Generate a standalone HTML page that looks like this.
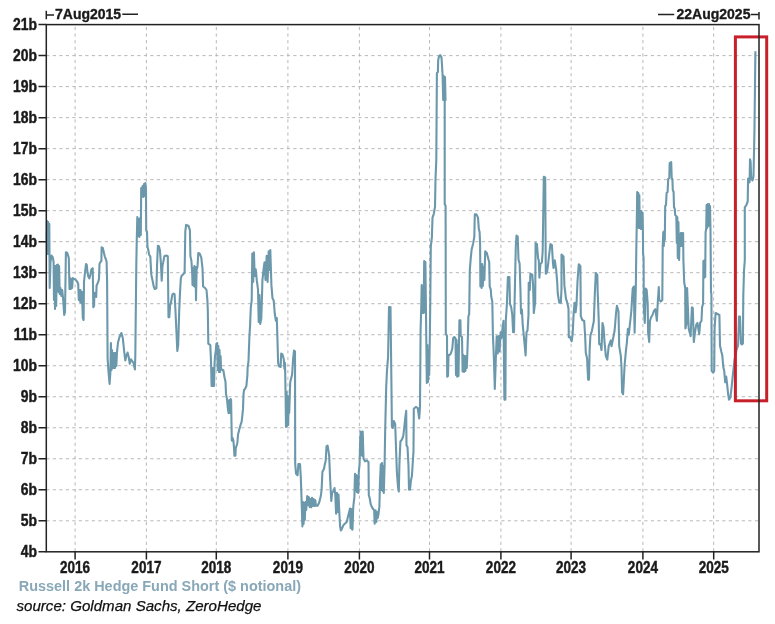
<!DOCTYPE html><html><head><meta charset="utf-8"><style>html,body{margin:0;padding:0;background:#fff;}svg{display:block}text{font-family:"Liberation Sans",Arial,sans-serif}</style></head><body>
<svg width="775" height="624" viewBox="0 0 775 624">
<rect width="775" height="624" fill="#fff"/>
<path d="M46.3 520.79H759.0 M46.3 489.78H759.0 M46.3 458.76H759.0 M46.3 427.75H759.0 M46.3 396.74H759.0 M46.3 365.73H759.0 M46.3 334.72H759.0 M46.3 303.71H759.0 M46.3 272.69H759.0 M46.3 241.68H759.0 M46.3 210.67H759.0 M46.3 179.66H759.0 M46.3 148.65H759.0 M46.3 117.64H759.0 M46.3 86.62H759.0 M46.3 55.61H759.0" stroke="#b8b8b8" stroke-width="1" stroke-dasharray="3.2 3.3" fill="none"/>
<path d="M75.10 24.6V551.8 M146.40 24.6V551.8 M216.30 24.6V551.8 M287.90 24.6V551.8 M359.40 24.6V551.8 M429.50 24.6V551.8 M500.90 24.6V551.8 M571.10 24.6V551.8 M642.90 24.6V551.8 M713.70 24.6V551.8" stroke="#b8b8b8" stroke-width="1" stroke-dasharray="3.2 3.4" stroke-dashoffset="4.3" fill="none"/>
<text transform="translate(37 557.3) scale(0.87 1)" font-size="16" font-weight="bold" text-anchor="end" fill="#1a1a1a" stroke="#1a1a1a" stroke-width="0.45">4b</text>
<text transform="translate(37 526.3) scale(0.87 1)" font-size="16" font-weight="bold" text-anchor="end" fill="#1a1a1a" stroke="#1a1a1a" stroke-width="0.45">5b</text>
<text transform="translate(37 495.3) scale(0.87 1)" font-size="16" font-weight="bold" text-anchor="end" fill="#1a1a1a" stroke="#1a1a1a" stroke-width="0.45">6b</text>
<text transform="translate(37 464.3) scale(0.87 1)" font-size="16" font-weight="bold" text-anchor="end" fill="#1a1a1a" stroke="#1a1a1a" stroke-width="0.45">7b</text>
<text transform="translate(37 433.3) scale(0.87 1)" font-size="16" font-weight="bold" text-anchor="end" fill="#1a1a1a" stroke="#1a1a1a" stroke-width="0.45">8b</text>
<text transform="translate(37 402.2) scale(0.87 1)" font-size="16" font-weight="bold" text-anchor="end" fill="#1a1a1a" stroke="#1a1a1a" stroke-width="0.45">9b</text>
<text transform="translate(37 371.2) scale(0.87 1)" font-size="16" font-weight="bold" text-anchor="end" fill="#1a1a1a" stroke="#1a1a1a" stroke-width="0.45">10b</text>
<text transform="translate(37 340.2) scale(0.87 1)" font-size="16" font-weight="bold" text-anchor="end" fill="#1a1a1a" stroke="#1a1a1a" stroke-width="0.45">11b</text>
<text transform="translate(37 309.2) scale(0.87 1)" font-size="16" font-weight="bold" text-anchor="end" fill="#1a1a1a" stroke="#1a1a1a" stroke-width="0.45">12b</text>
<text transform="translate(37 278.2) scale(0.87 1)" font-size="16" font-weight="bold" text-anchor="end" fill="#1a1a1a" stroke="#1a1a1a" stroke-width="0.45">13b</text>
<text transform="translate(37 247.2) scale(0.87 1)" font-size="16" font-weight="bold" text-anchor="end" fill="#1a1a1a" stroke="#1a1a1a" stroke-width="0.45">14b</text>
<text transform="translate(37 216.2) scale(0.87 1)" font-size="16" font-weight="bold" text-anchor="end" fill="#1a1a1a" stroke="#1a1a1a" stroke-width="0.45">15b</text>
<text transform="translate(37 185.2) scale(0.87 1)" font-size="16" font-weight="bold" text-anchor="end" fill="#1a1a1a" stroke="#1a1a1a" stroke-width="0.45">16b</text>
<text transform="translate(37 154.1) scale(0.87 1)" font-size="16" font-weight="bold" text-anchor="end" fill="#1a1a1a" stroke="#1a1a1a" stroke-width="0.45">17b</text>
<text transform="translate(37 123.1) scale(0.87 1)" font-size="16" font-weight="bold" text-anchor="end" fill="#1a1a1a" stroke="#1a1a1a" stroke-width="0.45">18b</text>
<text transform="translate(37 92.1) scale(0.87 1)" font-size="16" font-weight="bold" text-anchor="end" fill="#1a1a1a" stroke="#1a1a1a" stroke-width="0.45">19b</text>
<text transform="translate(37 61.1) scale(0.87 1)" font-size="16" font-weight="bold" text-anchor="end" fill="#1a1a1a" stroke="#1a1a1a" stroke-width="0.45">20b</text>
<text transform="translate(37 30.1) scale(0.87 1)" font-size="16" font-weight="bold" text-anchor="end" fill="#1a1a1a" stroke="#1a1a1a" stroke-width="0.45">21b</text>
<text transform="translate(75.1 572.9) scale(0.82 1)" font-size="16.5" font-weight="bold" text-anchor="middle" fill="#1a1a1a" stroke="#1a1a1a" stroke-width="0.45">2016</text>
<text transform="translate(146.4 572.9) scale(0.82 1)" font-size="16.5" font-weight="bold" text-anchor="middle" fill="#1a1a1a" stroke="#1a1a1a" stroke-width="0.45">2017</text>
<text transform="translate(216.3 572.9) scale(0.82 1)" font-size="16.5" font-weight="bold" text-anchor="middle" fill="#1a1a1a" stroke="#1a1a1a" stroke-width="0.45">2018</text>
<text transform="translate(287.9 572.9) scale(0.82 1)" font-size="16.5" font-weight="bold" text-anchor="middle" fill="#1a1a1a" stroke="#1a1a1a" stroke-width="0.45">2019</text>
<text transform="translate(359.4 572.9) scale(0.82 1)" font-size="16.5" font-weight="bold" text-anchor="middle" fill="#1a1a1a" stroke="#1a1a1a" stroke-width="0.45">2020</text>
<text transform="translate(429.5 572.9) scale(0.82 1)" font-size="16.5" font-weight="bold" text-anchor="middle" fill="#1a1a1a" stroke="#1a1a1a" stroke-width="0.45">2021</text>
<text transform="translate(500.9 572.9) scale(0.82 1)" font-size="16.5" font-weight="bold" text-anchor="middle" fill="#1a1a1a" stroke="#1a1a1a" stroke-width="0.45">2022</text>
<text transform="translate(571.1 572.9) scale(0.82 1)" font-size="16.5" font-weight="bold" text-anchor="middle" fill="#1a1a1a" stroke="#1a1a1a" stroke-width="0.45">2023</text>
<text transform="translate(642.9 572.9) scale(0.82 1)" font-size="16.5" font-weight="bold" text-anchor="middle" fill="#1a1a1a" stroke="#1a1a1a" stroke-width="0.45">2024</text>
<text transform="translate(713.7 572.9) scale(0.82 1)" font-size="16.5" font-weight="bold" text-anchor="middle" fill="#1a1a1a" stroke="#1a1a1a" stroke-width="0.45">2025</text>
<path d="M38.5 551.80H46.3 M38.5 520.79H46.3 M38.5 489.78H46.3 M38.5 458.76H46.3 M38.5 427.75H46.3 M38.5 396.74H46.3 M38.5 365.73H46.3 M38.5 334.72H46.3 M38.5 303.71H46.3 M38.5 272.69H46.3 M38.5 241.68H46.3 M38.5 210.67H46.3 M38.5 179.66H46.3 M38.5 148.65H46.3 M38.5 117.64H46.3 M38.5 86.62H46.3 M38.5 55.61H46.3 M38.5 24.60H46.3 M75.10 551.8V559.5 M146.40 551.8V559.5 M216.30 551.8V559.5 M287.90 551.8V559.5 M359.40 551.8V559.5 M429.50 551.8V559.5 M500.90 551.8V559.5 M571.10 551.8V559.5 M642.90 551.8V559.5 M713.70 551.8V559.5" stroke="#222" stroke-width="1.5" fill="none"/>
<path d="M46.8 240.0 L47.0 221.0 L47.6 254.0 L48.2 222.0 L48.8 254.0 L49.3 224.0 L49.7 288.0 L50.5 262.0 L51.5 255.5 L52.8 257.4 L53.6 262.0 L54.0 300.0 L54.5 266.0 L55.0 309.0 L55.6 266.0 L56.2 306.0 L56.8 265.0 L57.3 290.0 L57.9 264.5 L58.5 292.0 L59.1 266.0 L59.7 294.0 L60.5 288.0 L61.3 296.0 L62.2 290.0 L63.2 300.0 L64.2 315.0 L65.0 312.0 L65.9 252.3 L67.3 253.0 L68.8 258.0 L69.5 289.0 L70.2 278.0 L70.8 289.0 L71.5 279.0 L72.1 288.0 L72.8 278.0 L74.0 279.0 L75.3 279.2 L76.5 281.0 L77.4 282.0 L78.2 284.0 L78.8 300.0 L79.5 290.0 L80.2 302.0 L80.5 290.0 L81.2 303.0 L82.0 292.0 L82.8 318.0 L83.6 320.0 L84.0 282.0 L85.0 272.5 L86.0 264.0 L86.8 265.0 L87.5 272.5 L88.4 276.8 L89.4 278.3 L90.3 275.0 L91.3 269.6 L92.7 268.2 L93.0 285.5 L93.3 307.2 L94.1 305.7 L94.4 292.7 L95.5 294.0 L96.2 297.0 L96.6 285.5 L97.3 284.0 L98.5 281.2 L99.0 278.3 L99.5 263.9 L100.2 262.4 L101.4 261.0 L101.6 247.3 L102.8 248.0 L103.8 252.3 L104.8 256.6 L106.0 259.5 L106.6 262.0 L107.1 281.2 L107.6 358.0 L108.5 372.0 L109.6 384.0 L110.4 372.0 L110.9 343.0 L111.5 370.0 L112.0 350.0 L112.6 368.0 L113.2 353.0 L113.8 368.0 L114.4 353.0 L115.0 368.0 L115.6 353.0 L116.3 366.0 L117.0 352.0 L118.0 342.5 L119.5 337.0 L121.4 333.0 L122.8 338.0 L124.2 351.5 L125.3 360.4 L126.3 356.0 L127.6 352.6 L128.7 357.0 L129.8 363.8 L131.0 359.3 L132.2 361.0 L133.5 363.0 L134.9 369.4 L135.3 356.0 L136.3 265.0 L136.8 238.0 L137.3 217.0 L138.0 236.0 L138.7 219.0 L139.4 237.0 L140.1 218.0 L140.8 235.0 L141.2 188.0 L141.9 196.0 L142.6 186.0 L143.3 197.0 L144.0 184.0 L144.7 196.0 L145.4 183.0 L146.0 190.0 L146.2 230.0 L147.0 232.0 L147.5 247.0 L148.0 248.7 L149.2 254.8 L150.3 256.3 L151.3 274.6 L152.6 280.7 L153.8 286.8 L154.8 289.0 L156.4 288.3 L157.1 263.9 L157.9 245.7 L159.0 246.4 L159.9 250.2 L160.9 263.2 L161.7 280.7 L162.5 265.4 L163.2 262.4 L164.4 256.3 L166.3 255.5 L167.8 256.3 L168.5 317.2 L169.3 317.2 L170.1 305.0 L170.8 303.5 L172.4 294.4 L173.6 293.6 L174.6 294.4 L175.1 303.5 L176.2 326.3 L177.3 351.0 L178.2 345.0 L179.2 311.1 L180.0 292.8 L180.7 280.7 L180.8 279.0 L181.5 276.0 L184.6 272.8 L185.3 231.7 L186.1 224.9 L188.4 225.7 L189.9 230.2 L190.4 256.1 L191.4 260.7 L192.2 272.8 L192.5 285.0 L193.2 268.0 L193.8 286.0 L194.4 266.0 L195.0 287.0 L195.6 267.0 L196.0 300.2 L196.6 270.0 L197.5 266.7 L198.3 253.0 L199.8 253.8 L201.3 257.6 L202.5 268.3 L203.1 286.5 L205.1 288.0 L206.5 290.0 L207.4 300.2 L207.8 310.0 L208.3 343.7 L210.3 345.2 L211.1 363.5 L211.6 386.0 L212.2 368.0 L212.8 386.0 L213.4 368.0 L214.0 386.0 L214.5 365.0 L214.9 357.4 L215.7 351.3 L216.4 343.7 L217.2 343.0 L217.7 370.0 L218.3 346.0 L218.9 372.0 L219.5 350.0 L220.1 372.0 L220.6 356.0 L221.0 368.0 L221.7 369.6 L223.3 370.3 L224.5 377.2 L225.5 381.8 L226.0 393.9 L227.1 400.0 L227.9 408.9 L228.6 413.2 L229.3 400.0 L230.0 413.0 L230.6 399.0 L231.1 400.2 L231.5 423.3 L231.8 440.6 L232.5 437.7 L233.4 440.6 L233.9 446.4 L234.4 455.8 L235.4 455.8 L235.8 447.8 L237.3 443.5 L238.0 434.8 L239.4 429.1 L240.6 424.7 L241.6 421.8 L242.3 416.1 L243.0 408.9 L243.5 394.4 L244.0 390.1 L245.2 388.7 L246.4 385.8 L247.4 375.0 L247.6 368.0 L248.5 361.2 L249.4 336.5 L250.1 325.3 L250.8 307.3 L251.7 300.6 L252.3 253.5 L253.2 282.0 L253.9 252.3 L254.7 276.0 L255.7 269.2 L256.8 280.4 L258.0 289.4 L258.7 322.0 L259.5 295.0 L260.2 324.0 L261.3 318.5 L262.0 296.1 L262.4 280.4 L263.6 269.2 L264.5 262.4 L265.5 280.0 L266.7 255.7 L267.6 282.0 L268.7 251.2 L269.5 270.0 L270.3 250.1 L271.4 284.9 L272.5 298.3 L273.7 300.6 L274.8 314.0 L275.9 320.8 L276.8 318.0 L277.7 347.7 L278.1 362.0 L278.7 366.0 L280.6 367.0 L281.2 353.5 L282.5 354.4 L283.8 359.2 L284.4 368.8 L285.0 363.0 L285.6 395.0 L286.0 427.0 L286.6 392.0 L287.1 426.0 L287.7 396.0 L288.2 425.0 L288.7 398.0 L289.2 413.0 L290.2 382.3 L292.1 374.6 L293.1 359.2 L294.0 350.6 L295.0 351.5 L295.2 463.5 L296.0 473.7 L297.6 475.3 L298.4 464.0 L300.0 464.0 L300.8 476.9 L301.6 500.9 L302.4 526.5 L303.0 502.0 L303.6 524.0 L304.2 503.0 L304.8 520.0 L305.4 502.0 L306.2 510.0 L307.2 496.1 L308.0 505.0 L308.8 497.0 L309.6 507.0 L310.4 499.0 L311.2 507.3 L312.0 497.7 L312.8 506.0 L313.6 499.0 L314.4 506.0 L315.2 500.0 L316.0 505.7 L317.6 505.7 L319.2 502.5 L320.8 496.1 L321.6 489.7 L322.4 472.0 L324.0 468.8 L324.9 464.0 L325.7 460.8 L326.5 446.4 L327.6 445.6 L328.5 451.2 L329.2 456.0 L330.1 478.5 L331.3 500.9 L332.1 492.9 L333.3 491.3 L334.5 488.1 L335.3 495.0 L336.1 513.7 L336.9 492.9 L337.6 512.0 L338.5 494.5 L339.2 510.0 L340.1 526.5 L340.9 530.5 L341.5 529.6 L343.5 525.0 L346.7 522.0 L350.0 508.5 L350.6 528.0 L351.2 509.0 L351.8 529.0 L352.5 529.6 L353.2 508.0 L353.5 504.6 L354.4 496.9 L355.0 473.8 L355.6 490.0 L356.2 475.0 L356.8 492.0 L357.4 476.0 L358.3 493.0 L358.8 472.0 L359.6 464.2 L360.2 439.2 L360.8 431.5 L361.3 455.0 L361.8 432.0 L362.3 456.0 L362.7 431.5 L363.5 458.5 L365.0 461.3 L366.9 460.4 L368.5 462.3 L368.8 495.0 L369.8 498.8 L370.8 504.6 L372.7 508.5 L374.2 510.4 L374.6 523.8 L375.6 510.4 L376.3 522.0 L377.0 512.0 L377.7 518.0 L378.5 514.2 L379.4 506.5 L380.0 481.5 L380.8 464.2 L381.4 490.0 L382.0 463.0 L382.6 491.0 L383.2 466.0 L383.8 493.0 L384.6 464.2 L385.2 429.6 L386.2 387.3 L386.9 371.9 L388.1 356.5 L389.0 307.0 L390.5 307.0 L391.3 373.8 L391.9 426.0 L392.7 428.0 L393.8 421.0 L395.2 424.2 L396.2 453.0 L396.9 472.3 L398.1 487.7 L398.8 491.5 L399.4 464.6 L400.4 441.5 L401.9 439.6 L403.3 435.8 L404.2 428.0 L405.2 418.5 L406.2 410.8 L406.5 445.4 L407.5 447.0 L408.5 466.5 L409.0 489.6 L410.0 489.6 L411.0 480.0 L411.9 476.2 L413.5 451.2 L413.8 408.8 L415.8 407.0 L417.7 407.9 L419.2 418.5 L420.0 407.0 L420.6 330.0 L421.2 309.0 L421.7 285.0 L422.4 313.0 L423.0 287.0 L423.6 313.0 L424.2 261.0 L424.8 312.0 L425.4 262.0 L426.0 314.0 L426.3 340.0 L426.8 383.0 L427.4 345.0 L428.0 382.0 L428.6 350.0 L429.2 375.0 L429.8 340.0 L430.3 300.0 L430.8 246.4 L431.9 237.0 L432.5 217.7 L433.8 213.8 L435.0 207.0 L435.5 179.2 L436.3 160.0 L436.9 73.0 L437.9 72.0 L438.2 60.0 L439.0 56.5 L440.1 55.1 L441.5 57.4 L442.0 65.2 L442.6 75.3 L443.2 100.0 L443.8 76.0 L444.4 101.0 L445.0 77.0 L445.5 100.0 L444.7 101.0 L444.7 204.0 L445.6 206.0 L445.8 333.5 L447.0 336.0 L447.2 376.7 L448.0 376.0 L448.5 355.0 L449.8 354.9 L451.0 353.0 L452.3 348.5 L453.2 338.2 L454.3 337.0 L455.5 338.2 L456.0 375.0 L456.6 340.0 L457.2 376.7 L457.8 345.0 L458.5 376.0 L459.4 320.3 L460.4 320.3 L460.7 335.6 L462.0 337.0 L462.6 371.5 L463.3 355.0 L464.0 372.0 L464.7 356.0 L465.4 371.0 L466.1 356.0 L466.8 368.0 L467.7 343.3 L468.4 316.4 L469.2 314.0 L469.8 270.0 L470.8 257.7 L471.6 249.7 L473.2 243.3 L474.3 236.9 L474.8 214.4 L476.4 214.4 L478.0 217.6 L478.8 228.8 L479.6 232.0 L480.1 243.3 L480.4 286.5 L481.0 265.0 L481.6 288.0 L482.2 264.0 L482.8 286.0 L483.6 267.3 L484.4 280.0 L485.2 251.3 L486.8 252.9 L488.4 259.3 L489.2 262.0 L489.7 286.5 L490.8 289.7 L491.2 296.2 L492.3 301.5 L492.9 334.2 L493.8 355.4 L494.8 389.0 L495.8 359.2 L496.7 336.2 L497.7 353.5 L498.7 336.0 L499.6 351.5 L500.6 332.3 L501.5 338.0 L502.5 328.5 L503.5 320.8 L504.4 399.6 L505.4 399.6 L505.8 320.8 L506.9 303.8 L507.9 277.0 L509.4 277.0 L510.0 303.8 L511.3 307.7 L512.3 315.4 L513.1 332.3 L514.0 332.3 L514.6 302.0 L515.8 246.2 L516.5 235.6 L517.7 236.5 L518.5 259.6 L519.6 263.5 L520.4 288.5 L521.0 313.5 L521.9 309.6 L522.7 324.6 L524.2 340.0 L525.6 355.4 L526.5 332.3 L527.5 330.4 L528.5 315.0 L528.7 282.7 L529.8 290.0 L530.4 273.8 L532.3 274.8 L533.1 285.4 L533.8 313.0 L535.2 301.5 L535.6 243.0 L536.9 244.0 L538.1 258.5 L538.8 260.4 L539.4 277.7 L540.4 264.2 L541.9 262.3 L542.7 250.8 L543.8 176.7 L545.2 177.7 L545.8 273.8 L547.1 271.9 L548.1 264.2 L550.4 244.0 L551.9 245.0 L552.9 262.3 L553.5 268.0 L554.8 260.4 L556.2 270.0 L557.3 283.5 L557.7 293.0 L559.2 302.7 L560.8 302.7 L561.5 289.2 L561.5 254.6 L563.5 256.5 L564.4 285.4 L566.0 298.8 L567.3 302.7 L568.5 308.5 L568.8 337.3 L569.8 336.3 L570.8 339.2 L571.7 341.2 L572.7 333.5 L573.7 312.3 L574.6 302.7 L575.6 312.3 L576.5 304.6 L577.5 281.5 L578.8 264.2 L580.4 266.2 L580.8 316.2 L582.3 320.0 L584.2 321.0 L585.2 337.3 L585.8 352.7 L587.1 358.5 L588.1 379.6 L589.0 379.6 L589.6 350.8 L590.4 335.4 L591.9 330.8 L593.8 321.2 L594.8 294.2 L595.8 273.0 L597.3 275.0 L597.7 292.3 L598.7 319.2 L599.2 344.2 L600.5 344.0 L601.5 350.0 L602.5 323.0 L603.5 327.0 L604.4 340.4 L605.8 355.8 L607.3 359.6 L608.7 346.2 L610.8 340.4 L611.5 346.2 L613.1 338.5 L614.6 330.8 L616.0 313.5 L616.9 305.8 L618.5 311.5 L619.2 346.2 L620.8 355.8 L621.5 367.3 L622.1 392.3 L623.1 394.2 L624.0 377.0 L624.6 365.4 L626.0 350.0 L626.9 342.3 L627.9 328.8 L628.8 334.6 L629.4 328.8 L631.3 311.5 L632.7 288.5 L633.8 286.5 L634.6 332.7 L635.8 288.5 L636.3 250.0 L636.7 228.0 L637.2 192.0 L637.8 226.0 L638.3 193.0 L638.8 228.0 L639.3 195.0 L639.8 228.0 L640.3 211.0 L640.9 229.0 L641.5 211.0 L642.1 229.0 L642.6 213.0 L642.9 230.0 L643.1 254.0 L643.6 258.0 L643.8 307.7 L644.8 323.0 L645.8 288.5 L646.7 290.0 L647.7 303.5 L648.1 332.3 L649.2 342.0 L650.0 320.8 L651.2 317.0 L652.5 315.0 L653.8 311.2 L655.4 309.2 L656.9 320.8 L657.7 303.5 L658.8 287.1 L659.2 299.6 L660.8 301.5 L662.3 300.0 L662.7 246.0 L663.3 232.0 L663.8 246.0 L664.3 231.0 L664.8 240.0 L665.2 206.0 L666.0 205.0 L666.6 193.0 L667.6 192.0 L668.2 179.0 L669.3 178.0 L669.7 163.0 L671.2 162.0 L671.7 178.0 L672.4 179.0 L672.8 190.0 L673.6 192.0 L674.0 207.0 L674.8 209.0 L675.2 215.0 L676.3 216.0 L676.8 243.0 L677.3 217.0 L677.8 258.0 L678.4 222.0 L679.1 260.0 L679.6 235.0 L680.2 246.0 L680.8 233.0 L681.4 246.0 L682.0 233.0 L682.6 246.0 L683.1 233.0 L683.4 260.0 L684.2 282.3 L685.2 288.0 L685.4 328.5 L686.7 322.7 L687.1 288.0 L688.7 328.5 L690.6 336.2 L691.9 307.3 L692.8 308.0 L693.8 342.0 L695.0 332.3 L696.3 324.6 L697.5 323.0 L699.2 334.2 L700.2 322.7 L701.5 320.8 L702.1 307.3 L703.1 303.5 L703.4 261.0 L704.0 278.0 L704.6 260.0 L705.2 277.0 L705.6 232.0 L706.2 229.0 L706.6 205.0 L707.2 228.0 L707.8 204.0 L708.4 226.0 L709.0 204.0 L709.6 220.0 L710.0 206.0 L710.5 230.0 L711.0 292.5 L711.4 294.0 L711.7 370.8 L713.1 372.7 L714.2 370.8 L714.6 328.5 L715.6 313.0 L717.5 314.0 L719.4 315.0 L720.0 345.8 L721.3 351.5 L722.3 355.4 L723.3 367.0 L724.2 370.8 L725.2 382.3 L726.2 376.5 L727.1 384.2 L728.1 393.8 L729.0 399.6 L730.4 397.7 L731.5 388.0 L732.9 374.6 L734.5 360.0 L736.5 350.0 L738.1 345.4 L739.0 316.5 L740.0 316.5 L741.0 343.5 L741.9 344.4 L742.9 343.5 L743.3 295.4 L744.0 271.0 L744.8 260.0 L744.8 207.3 L746.2 205.4 L747.7 201.5 L748.1 178.5 L749.6 182.3 L750.0 159.2 L750.6 161.2 L751.2 178.5 L752.5 180.4 L753.5 176.5 L754.4 134.0 L755.4 51.2" stroke="#6c98ac" stroke-width="2.1" fill="none" stroke-linejoin="round"/>
<rect x="735.4" y="36.9" width="31.3" height="363.9" stroke="#c8202a" stroke-width="3" fill="none"/>
<rect x="46.3" y="24.6" width="712.7" height="527.2" stroke="#222" stroke-width="1.5" fill="none"/>
<path d="M46.3 10.8V19.2 M46.3 14.9H54 M122.3 14.3H138 M658 14.5H674.2 M750.8 14.5H759 M759 12V19.4" stroke="#222" stroke-width="1.5" fill="none"/>
<text x="55" y="19.3" font-size="14" font-weight="bold" fill="#1a1a1a" stroke="#1a1a1a" stroke-width="0.35">7Aug2015</text>
<text x="676.5" y="19.3" font-size="14" font-weight="bold" fill="#1a1a1a" stroke="#1a1a1a" stroke-width="0.35">22Aug2025</text>
<text transform="translate(18.8 591) scale(0.95 1)" font-size="15.2" font-weight="bold" fill="#88a8b8">Russell 2k Hedge Fund Short ($ notional)</text>
<text x="16.5" y="610.5" font-size="15.1" font-style="italic" fill="#111" stroke="#111" stroke-width="0.25">source: Goldman Sachs, ZeroHedge</text>
</svg></body></html>
